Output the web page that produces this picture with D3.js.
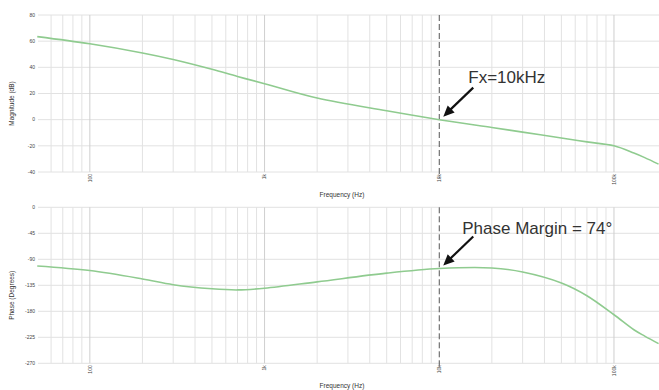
<!DOCTYPE html>
<html>
<head>
<meta charset="utf-8">
<script src="https://cdn.jsdelivr.net/npm/d3@7"></script>
<style>
  body { margin: 0; background: #fff; }
  svg { display: block; font-family: "Liberation Sans", Arial, sans-serif; }
  .grid line { stroke: #e2e2e2; stroke-width: 1; }
  .grid line.major { stroke: #cfcfcf; }
  .tick-label { font-size: 5px; fill: #444; }
  .axis-title { font-size: 6.5px; fill: #333; }
  .curve { fill: none; stroke: #8fcb8f; stroke-width: 1.6; }
  .xover { stroke: #555; stroke-width: 1; stroke-dasharray: 6,3; }
  .note { font-size: 17px; fill: #333; }
  .arrow { stroke: #111; stroke-width: 2.2; }
</style>
</head>
<body>
<script>
// frequency sweep (Hz)
const freqs = [50, 100, 200, 300, 500, 700, 1000, 2000, 5000, 10000, 20000, 30000, 50000, 70000, 100000, 130000, 150000, 180000];
// magnitude (dB)
const magDb = [63.5, 58, 51, 46, 38.5, 33, 27.5, 16.5, 6.8, 0, -6, -9.5, -14, -17, -20, -25.5, -29, -34];
// phase (degrees)
const phaseDeg = [-101.5, -109.5, -124, -134, -141, -143, -140, -129, -114, -106, -105, -112, -131, -153, -186, -212, -223, -236];

const magTicks = [80, 60, 40, 20, 0, -20, -40];
const phaseTicks = [0, -45, -90, -135, -180, -225, -270];
const decadeTicks = [100, 1000, 10000, 100000];
const decadeLabels = ["100", "1k", "10k", "100k"];
const crossover = 10000;

const width = 659, height = 390;
const left = 38, right = 659;

const svg = d3.select("body").append("svg")
  .attr("width", width)
  .attr("height", height);

const x = d3.scaleLog().domain([50.5, 181000]).range([left, right]);

// minor grid frequencies 2..9 x decade
const minorFreqs = [];
for (let d = 10; d <= 100000; d *= 10) {
  for (let k = 1; k <= 9; k++) {
    const f = d * k;
    if (f >= x.domain()[0] && f <= x.domain()[1]) minorFreqs.push(f);
  }
}

function panel(top, bottom, yDomain, ticks, values, title, arrowText, textDx, textDy) {
  const y = d3.scaleLinear().domain(yDomain).range([bottom, top]);
  const g = svg.append("g");

  const grid = g.append("g").attr("class", "grid");
  grid.selectAll("line.h").data(ticks).join("line")
    .attr("class", "h")
    .attr("x1", left).attr("x2", right)
    .attr("y1", d => y(d)).attr("y2", d => y(d));
  grid.selectAll("line.v").data(minorFreqs.filter(f => f !== crossover)).join("line")
    .attr("class", f => decadeTicks.includes(f) ? "v major" : "v")
    .attr("x1", f => x(f)).attr("x2", f => x(f))
    .attr("y1", top).attr("y2", bottom);

  // y tick labels
  g.selectAll("text.yt").data(ticks).join("text")
    .attr("class", "tick-label")
    .attr("x", left - 3)
    .attr("y", d => y(d))
    .attr("dy", "0.35em")
    .attr("text-anchor", "end")
    .text(d => d);

  // x tick labels, rotated
  g.selectAll("text.xt").data(decadeTicks).join("text")
    .attr("class", "tick-label")
    .attr("transform", d => `translate(${x(d) + 1.8},${bottom + 2}) rotate(-90)`)
    .attr("text-anchor", "end")
    .text((d, i) => decadeLabels[i]);

  // axis titles
  g.append("text")
    .attr("class", "axis-title")
    .attr("transform", `translate(${14},${(top + bottom) / 2 + 10}) rotate(-90)`)
    .attr("text-anchor", "middle")
    .text(title);
  g.append("text")
    .attr("class", "axis-title")
    .attr("x", 342)
    .attr("y", bottom + 25)
    .attr("text-anchor", "middle")
    .text("Frequency (Hz)");

  // crossover marker
  g.append("line")
    .attr("class", "xover")
    .attr("x1", x(crossover)).attr("x2", x(crossover))
    .attr("y1", top).attr("y2", bottom + 6);

  const line = d3.line()
    .x((d, i) => x(freqs[i]))
    .y(d => y(d))
    .curve(d3.curveCatmullRom.alpha(0.5));
  g.append("path")
    .datum(values)
    .attr("class", "curve")
    .attr("d", line);

  // annotation arrow pointing at crossover value
  const idx = freqs.indexOf(crossover);
  const tipX = x(crossover) + 4, tipY = y(values[idx]) - 3;
  const tailX = tipX + 30, tailY = tipY - 29;
  g.append("line")
    .attr("class", "arrow")
    .attr("x1", tailX).attr("y1", tailY)
    .attr("x2", tipX + 5).attr("y2", tipY - 5);
  const ang = Math.atan2(tipY - tailY, tipX - tailX);
  const hl = 11, hw = 5;
  const bx = tipX - hl * Math.cos(ang), by = tipY - hl * Math.sin(ang);
  g.append("path")
    .attr("fill", "#111")
    .attr("d", `M${tipX},${tipY}L${bx + hw * Math.sin(ang)},${by - hw * Math.cos(ang)}L${bx - hw * Math.sin(ang)},${by + hw * Math.cos(ang)}Z`);
  g.append("text")
    .attr("class", "note")
    .attr("x", tailX + textDx)
    .attr("y", tailY + textDy)
    .text(arrowText);
}

panel(15, 172, [-40, 80], magTicks, magDb, "Magnitude (dB)", "Fx=10kHz", -5, -5);
panel(207.3, 363.3, [-270, 0], phaseTicks, phaseDeg, "Phase (Degrees)", "Phase Margin = 74°", -11, -3);
</script>
</body>
</html>
